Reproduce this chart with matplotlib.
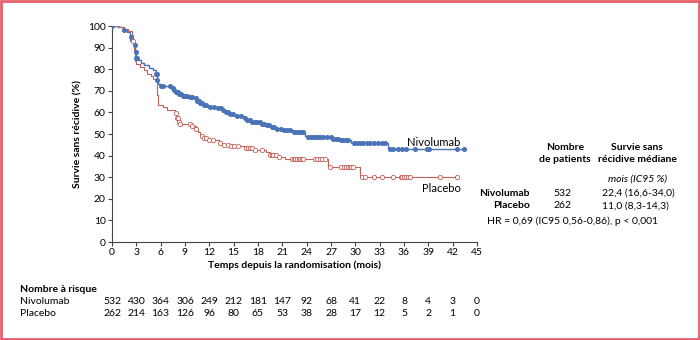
import numpy as np
import matplotlib
matplotlib.use("Agg")
import matplotlib.pyplot as plt
import matplotlib.transforms as mtransforms
from matplotlib.patches import Rectangle

plt.rcParams['font.family'] = ['Lato', 'DejaVu Sans']

# Kaplan-Meier steps: event times (months) and survival (%) after each step
nivo_t = [0, 0.8, 1.3, 1.8, 2.2, 2.5, 2.75, 2.85, 2.95, 3.2, 3.6, 4.0, 4.5,
          5.0, 5.4, 5.55, 5.65, 6.0, 7.3, 7.6, 7.9, 8.2, 8.6, 9.5, 10.1, 10.5,
          10.9, 11.3, 11.7, 13.0, 13.5, 14.0, 14.5, 15.2, 16.3, 16.7, 17.3,
          18.5, 19.0, 19.6, 20.2, 21.0, 22.3, 23.8, 24.1, 27.2, 28.2, 29.5, 34.0]
nivo_s = [100, 99.5, 98, 97, 95, 93.5, 91, 88, 85, 84.3, 83, 82, 80.5,
          79.5, 78, 75, 73, 72.2, 71.5, 70.5, 69.5, 68.3, 67.8, 67.3, 66.5, 65.3,
          64.3, 63.3, 62.6, 62, 61, 60, 59.3, 58.5, 57.5, 56.3, 55.5,
          54.8, 54.2, 53.4, 52.5, 51.7, 51, 49.2, 48.5, 47.8, 47, 46, 43.2]
nivo_end = 43.6

plac_t = [0, 0.9, 1.5, 2.0, 2.5, 2.6, 2.75, 2.85, 3.0, 3.5, 3.9, 4.3, 4.8,
          5.1, 5.5, 5.6, 5.7, 6.3, 6.8, 7.8, 8.0, 8.2, 8.4, 9.7, 10.3, 10.6,
          10.9, 11.2, 11.8, 13.2, 13.6, 14.5, 16.4, 17.5, 19.0, 19.5, 20.5,
          21.3, 26.6, 30.6]
plac_s = [100, 99.5, 98.5, 97.5, 96, 93, 89, 84, 82.5, 81, 79.5, 78, 77,
          75.5, 74, 68, 63.5, 62.5, 61, 59.5, 57.5, 55.5, 54.5, 53.5, 52.5, 51,
          49, 48.2, 47, 46, 45, 44.3, 43.5, 42.5, 41.5, 40.3, 39.5,
          38.5, 34.8, 30.3]
plac_end = 42.4

# censored observations (months)
nivo_cens = [0, 1.5, 2.3, 2.5, 2.8, 2.9, 3.0, 3.1, 5.4, 5.5, 5.6, 6.0, 6.3,
             7.2, 7.5, 7.7, 7.9, 8.1, 8.3, 8.5, 8.7, 8.9, 9.1, 9.3, 9.6, 9.9,
             10.3, 10.5, 10.7, 10.9, 11.1, 11.3, 11.6, 12.1, 12.6, 13.1, 13.4,
             13.7, 14.0, 14.3, 14.6, 14.9, 15.4, 15.9, 16.4, 16.7, 17.0, 17.3,
             17.6, 17.9, 18.2, 18.5, 18.8, 19.1, 19.4, 19.7, 20.0, 20.4, 20.8,
             21.2, 21.6, 22.0, 22.4, 22.7, 23.0, 23.3, 23.6, 24.2, 24.5, 24.8,
             25.1, 25.4, 25.7, 26.0, 26.5, 27.0, 27.3, 27.6, 27.9, 28.2, 28.5,
             28.8, 29.1, 29.8, 30.2, 30.6, 31.0, 31.4, 31.8, 32.3, 32.8, 33.3,
             33.7, 34.3, 34.7, 35.2, 35.7, 36.2, 37.3, 38.8, 39.1, 42.5, 43.4]
plac_cens = [2.6, 7.9, 8.0, 8.1, 8.2, 8.3, 8.4, 9.6, 9.9, 10.3, 11.1, 11.3,
             11.6, 12.0, 12.4, 13.3, 13.8, 14.3, 14.7, 15.1, 15.5, 16.5, 16.8,
             17.0, 17.3, 17.6, 18.5, 19.5, 19.7, 19.9, 20.2, 20.6, 22.2, 22.4,
             22.6, 22.8, 23.0, 23.2, 23.4, 23.6, 25.0, 25.3, 25.6, 25.9, 26.2,
             26.9, 28.2, 28.6, 28.9, 29.1, 29.3, 29.5, 29.7, 30.8, 31.2, 32.3,
             33.3, 34.7, 35.6, 35.8, 36.0, 36.2, 36.5, 36.8, 40.4, 42.5]

# number at risk
risk_times = list(range(0, 46, 3))
nivo_risk = [532, 430, 364, 306, 249, 212, 181, 147, 92, 68, 41, 22, 8, 4, 3, 0]
plac_risk = [262, 214, 163, 126, 96, 80, 65, 53, 38, 28, 17, 12, 5, 2, 1, 0]

blue = '#4a73b8'
red = '#c4615b'


def surv_at(times, surv, x):
    """Survival value of the step curve at the given times."""
    idx = np.searchsorted(times, x, side='right') - 1
    return np.asarray(surv)[idx]


fig = plt.figure(figsize=(7, 3.4), dpi=100)
ax = fig.add_axes([112 / 700, 1 - 242 / 340, 365 / 700, 216 / 340])


def fx(px):
    return px / 700


def fy(py):
    return 1 - py / 340


# curves
for t, s, end, col, lw in [(nivo_t, nivo_s, nivo_end, blue, 1.0),
                           (plac_t, plac_s, plac_end, red, 0.8)]:
    ax.step(t + [end], s + [s[-1]], where='post', color=col, lw=lw, zorder=3)

ax.plot(nivo_cens, surv_at(nivo_t, nivo_s, nivo_cens), 'o', ms=2.6,
        color=blue, mec=blue, zorder=4)
ax.plot(plac_cens, surv_at(plac_t, plac_s, plac_cens), 'o', ms=3.1,
        mfc='white', mec=red, mew=0.6, zorder=4)

ax.set_xlim(0, 45)
ax.set_ylim(0, 100)
ax.set_xticks(risk_times)
ax.set_yticks(range(0, 101, 10))
ax.spines['top'].set_visible(False)
ax.spines['right'].set_visible(False)
for sp in ('left', 'bottom'):
    ax.spines[sp].set_color('#444444')
    ax.spines[sp].set_linewidth(0.8)
ax.tick_params(labelsize=7.5, length=3, width=0.8, color='#444444', pad=1.5)
ax.set_xlabel('Temps depuis la randomisation (mois)', fontsize=7.5,
              fontweight='bold', labelpad=2)
ax.set_ylabel('Survie sans récidive (%)', fontsize=7.5, fontweight='bold',
              labelpad=4)

ax.text(407 / 700, fy(142), 'Nivolumab', transform=fig.transFigure,
        fontsize=8, va='center', ha='left')
ax.text(422 / 700, fy(188), 'Placebo', transform=fig.transFigure,
        fontsize=8, va='center', ha='left')

# number at risk table
trans = mtransforms.blended_transform_factory(ax.transData, fig.transFigure)
fig.text(fx(20), fy(289), 'Nombre à risque', fontsize=7.5, fontweight='bold',
         va='center')
fig.text(fx(20), fy(301), 'Nivolumab', fontsize=7.5, va='center')
fig.text(fx(20), fy(313), 'Placebo', fontsize=7.5, va='center')
for x, n, p in zip(risk_times, nivo_risk, plac_risk):
    ax.text(x, fy(301), str(n), transform=trans, fontsize=7.5,
            ha='center', va='center', clip_on=False)
    ax.text(x, fy(313), str(p), transform=trans, fontsize=7.5,
            ha='center', va='center', clip_on=False)

# median table
fig.text(fx(565), fy(147), 'Nombre', fontsize=7.5, fontweight='bold',
         ha='center', va='center')
fig.text(fx(565), fy(159), 'de patients', fontsize=7.5, fontweight='bold',
         ha='center', va='center')
fig.text(fx(637), fy(147), 'Survie sans', fontsize=7.5, fontweight='bold',
         ha='center', va='center')
fig.text(fx(637), fy(159), 'récidive médiane', fontsize=7.5,
         fontweight='bold', ha='center', va='center')
fig.text(fx(637), fy(179), 'mois (IC95 %)', fontsize=7.5, style='italic',
         ha='center', va='center')
fig.text(fx(530), fy(193), 'Nivolumab', fontsize=7.5, fontweight='bold',
         ha='right', va='center')
fig.text(fx(530), fy(206), 'Placebo', fontsize=7.5, fontweight='bold',
         ha='right', va='center')
fig.text(fx(562), fy(193), '532', fontsize=7.5, ha='center', va='center')
fig.text(fx(562), fy(206), '262', fontsize=7.5, ha='center', va='center')
fig.text(fx(602), fy(193), '22,4 (16,6-34,0)', fontsize=7.5, va='center')
fig.text(fx(602), fy(206), '11,0 (8,3-14,3)', fontsize=7.5, va='center')
fig.text(fx(487), fy(221), 'HR = 0,69 (IC95 0,56-0,86), p < 0,001',
         fontsize=7.5, va='center')

# frame around the figure
fig.patches.append(Rectangle((0.0015, 0.003), 0.997, 0.994,
                             transform=fig.transFigure, fill=False,
                             edgecolor='#e4606b', lw=2))

fig.savefig('out.png', dpi=100)
